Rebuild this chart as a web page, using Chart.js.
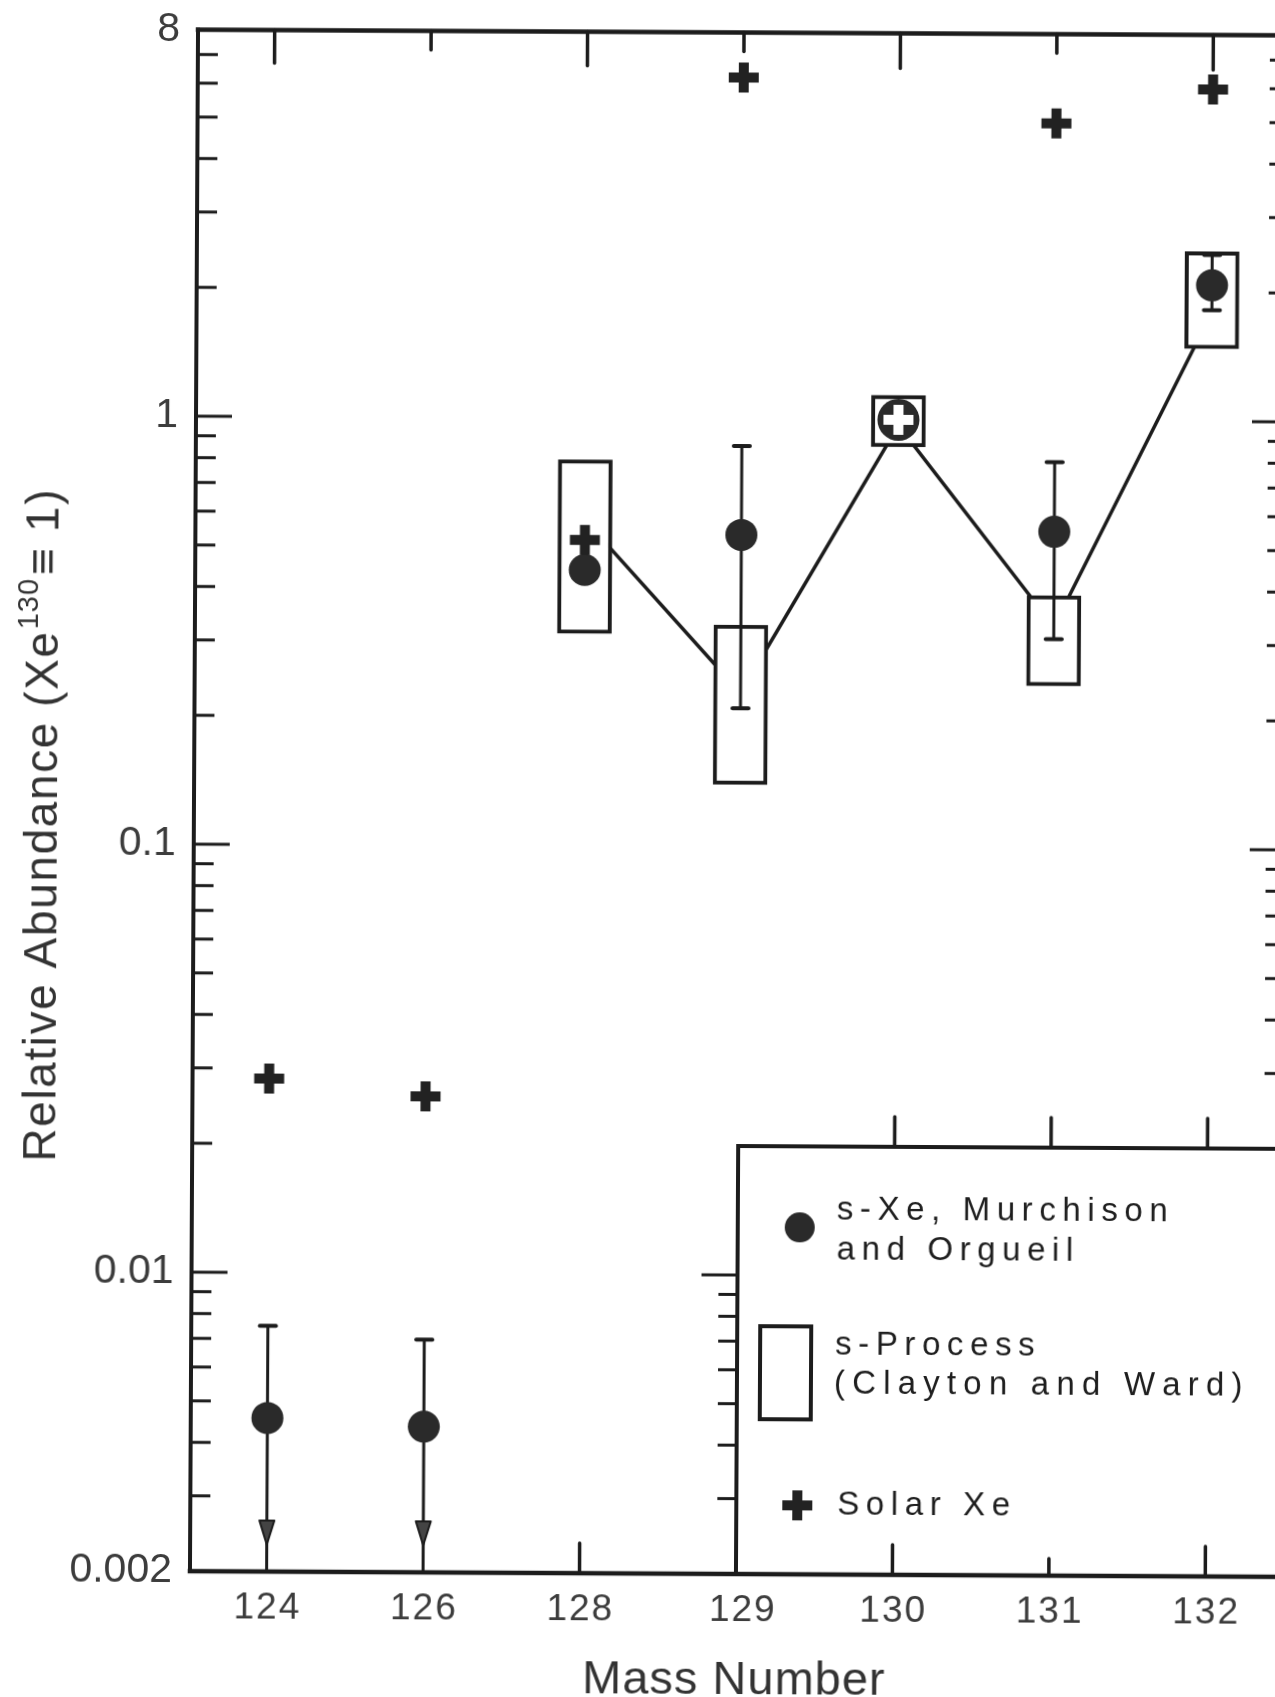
<!DOCTYPE html>
<html>
<head>
<meta charset="utf-8">
<title>Xenon isotopic abundances</title>
<script src="https://cdn.jsdelivr.net/npm/chart.js@4.4.1/dist/chart.umd.min.js"></script>
<style>
  html, body { margin: 0; padding: 0; background: #fff; overflow: hidden; }
  #wrap { position: relative; width: 1275px; height: 1697px; overflow: hidden; background: #fff; }
  /* the printed figure sits very slightly skewed on the page */
  #c { position: absolute; left: 0; top: 0; transform: rotate(0.3deg); transform-origin: 735px 800px; }
</style>
</head>
<body>
<div id="wrap"><canvas id="c" width="1320" height="1697"></canvas></div>
<script>
// Xenon mass numbers, evenly spaced along the horizontal axis
const massNumbers = ['124', '126', '128', '129', '130', '131', '132'];

// s-Xe, Murchison and Orgueil (relative to 130Xe = 1)
const sXe      = [0.00457, 0.00438, 0.442, 0.536, 1.0, 0.550, 2.08];
const sXeErrHi = [0.0075, 0.0070, null, 0.865, null, 0.800, 2.45];
const sXeErrLo = [null, null, null, 0.211, null, 0.3085, 1.82];   // null under an upper bar = upper limit

// s-process prediction (Clayton and Ward): allowed range and the connecting curve
const sProcMass = ['128', '129', '130', '131', '132'];
const sProcLow  = [0.314, 0.140, 0.865, 0.240, 1.48];
const sProcHigh = [0.799, 0.330, 1.14, 0.390, 2.49];
const sProcLine = [0.578, 0.229, 0.97, 0.330, 1.80];

// Solar xenon
const solarXe = [0.0284, 0.0259, 0.519, 6.28, 1.0, 4.95, 5.97];

// Labelled values of the logarithmic axis
const yTickLabels = ['8', '1', '0.1', '0.01', '0.002'];
const yTickValues = [8, 1, 0.1, 0.01, 0.002];

const INK = '#1c1c1c';
const DOT = '#2a2a2a';
const LABEL = '#3c3c3c';
const FONT = '"Liberation Sans", Arial, Helvetica, sans-serif';

const TOP_TICK = [33, 19, 34, 19, 35, 19, 35];
const BOTTOM_TICK = [0, 0, 30, 0, 30, 17, 30];

const idx = m => massNumbers.indexOf(m);

function seg(ctx, x1, y1, x2, y2) {
  ctx.beginPath(); ctx.moveTo(x1, y1); ctx.lineTo(x2, y2); ctx.stroke();
}
function spacedWidth(ctx, text, sp) {
  let w = 0;
  for (const ch of text) w += ctx.measureText(ch).width + sp;
  return w - sp;
}
function drawSpaced(ctx, text, x, y, sp) {
  let cx = x;
  for (const ch of text) { ctx.fillText(ch, cx, y); cx += ctx.measureText(ch).width + sp; }
  return cx;
}
function logTickValues() {
  const out = [];
  for (let d = -3; d <= 0; d++) {
    for (let k = 1; k <= 9; k++) {
      const v = +(k * Math.pow(10, d)).toPrecision(3);
      if (v > 0.002 && v < 8) out.push({ v, major: k === 1 });
    }
  }
  return out;
}
function drawCross(ctx, x, y, r, w, color) {
  ctx.save();
  ctx.strokeStyle = color; ctx.lineWidth = w; ctx.lineCap = 'butt';
  seg(ctx, x - r, y, x + r, y);
  seg(ctx, x, y - r, x, y + r);
  ctx.restore();
}

// Box frame, inward ticks on all four sides
const framePlugin = {
  id: 'frame',
  beforeDatasetsDraw(chart) {
    const { ctx, chartArea: a, scales: { x, y } } = chart;
    ctx.save();
    ctx.strokeStyle = INK;
    ctx.lineCap = 'square';
    ctx.lineWidth = 4.5;
    seg(ctx, a.left, a.top, a.right, a.top);
    ctx.lineWidth = 4;
    seg(ctx, a.left, a.top, a.left, a.bottom);
    seg(ctx, a.right, a.top, a.right, a.bottom);
    ctx.lineCap = 'round';
    ctx.lineWidth = 3.5;
    massNumbers.forEach((m, i) => {
      const px = x.getPixelForValue(i);
      seg(ctx, px, a.top, px, a.top + TOP_TICK[i]);
    });
    ctx.lineCap = 'butt';
    ctx.lineWidth = 3;
    logTickValues().forEach(t => {
      const py = y.getPixelForValue(t.v);
      const len = t.major ? 36 : 20;
      seg(ctx, a.left, py, a.left + len, py);
      seg(ctx, a.right, py, a.right - len, py);
    });
    ctx.restore();
  }
};

// Error bars (and upper-limit arrows) under the s-Xe dots
const errorBarPlugin = {
  id: 'errorBars',
  beforeDatasetDraw(chart, args) {
    if (chart.data.datasets[args.index].label !== 's-Xe, Murchison and Orgueil') return;
    const { ctx, chartArea: a, scales: { x, y } } = chart;
    ctx.save();
    ctx.strokeStyle = INK; ctx.fillStyle = '#444';
    sXe.forEach((v, i) => {
      const hi = sXeErrHi[i];
      if (hi == null) return;
      const lo = sXeErrLo[i];
      const px = x.getPixelForValue(i);
      const pyHi = y.getPixelForValue(hi);
      const pyLo = lo == null ? a.bottom : y.getPixelForValue(lo);
      ctx.lineWidth = 3; ctx.lineCap = 'butt';
      seg(ctx, px, pyHi, px, pyLo);
      ctx.lineWidth = 4; ctx.lineCap = 'round';
      seg(ctx, px - 8, pyHi, px + 8, pyHi);
      if (lo == null) {
        const tip = a.bottom - 27;
        ctx.beginPath();
        ctx.moveTo(px - 7.5, tip - 24); ctx.lineTo(px + 7.5, tip - 24); ctx.lineTo(px, tip);
        ctx.closePath(); ctx.fill();
        ctx.lineWidth = 2; ctx.lineJoin = 'round'; ctx.stroke();
      } else {
        seg(ctx, px - 8, pyLo, px + 8, pyLo);
      }
    });
    ctx.restore();
  }
};

// Key box in the lower right, tick labels and axis titles
const annotationPlugin = {
  id: 'annotations',
  afterDatasetsDraw(chart) {
    const { ctx, chartArea: a, scales: { x, y } } = chart;
    ctx.save();
    const lx = x.getPixelForValue(3);
    const ly = y.getPixelForValue(0.02);

    // key panel
    ctx.fillStyle = '#fff';
    ctx.fillRect(lx, ly, a.right + 20 - lx, a.bottom - ly);
    ctx.strokeStyle = INK;
    ctx.lineWidth = 4; ctx.lineCap = 'square';
    seg(ctx, lx, ly, a.right + 20, ly);
    seg(ctx, lx, ly, lx, a.bottom);
    ctx.lineWidth = 4.5;
    seg(ctx, a.left, a.bottom, a.right, a.bottom);

    ctx.lineWidth = 3.5; ctx.lineCap = 'round';
    for (let i = 4; i < massNumbers.length; i++) {
      const px = x.getPixelForValue(i);
      seg(ctx, px, ly, px, ly - 30);
    }
    massNumbers.forEach((m, i) => {
      if (!BOTTOM_TICK[i]) return;
      const px = x.getPixelForValue(i);
      seg(ctx, px, a.bottom, px, a.bottom - BOTTOM_TICK[i]);
    });
    ctx.lineWidth = 3; ctx.lineCap = 'butt';
    logTickValues().forEach(t => {
      if (t.v >= 0.02) return;
      const py = y.getPixelForValue(t.v);
      seg(ctx, lx, py, lx - (t.major ? 36 : 19), py);
    });

    // key entries
    ctx.fillStyle = DOT;
    ctx.beginPath(); ctx.arc(lx + 62, ly + 81, 15, 0, Math.PI * 2); ctx.fill();
    ctx.strokeStyle = INK; ctx.lineWidth = 4;
    ctx.strokeRect(lx + 23, ly + 180, 51, 93);
    drawCross(ctx, lx + 61, ly + 359, 15, 10, '#222');

    ctx.fillStyle = '#1e1e1e';
    ctx.font = '33px ' + FONT;
    ctx.textBaseline = 'middle'; ctx.textAlign = 'left';
    drawSpaced(ctx, 's-Xe, Murchison', lx + 99, ly + 64, 6.6);
    drawSpaced(ctx, 'and Orgueil', lx + 99, ly + 104, 6.6);
    drawSpaced(ctx, 's-Process', lx + 98, ly + 199, 6.6);
    drawSpaced(ctx, '(Clayton and Ward)', lx + 97, ly + 238, 7.2);
    drawSpaced(ctx, 'Solar Xe', lx + 101, ly + 359, 6.6);

    // tick labels
    ctx.fillStyle = LABEL;
    ctx.font = '41px ' + FONT;
    ctx.textAlign = 'right';
    yTickValues.forEach((v, k) => {
      ctx.fillText(yTickLabels[k], a.left - 18, y.getPixelForValue(v));
    });
    ctx.font = '37px ' + FONT;
    massNumbers.forEach((m, i) => {
      const px = x.getPixelForValue(i);
      const w = spacedWidth(ctx, m, 2);
      ctx.textAlign = 'left';
      drawSpaced(ctx, m, px - w / 2 + (i === 3 ? 6 : 0), a.bottom + 37, 2);
    });

    // horizontal axis title
    ctx.fillStyle = '#333';
    ctx.font = '47px ' + FONT;
    const xt = 'Mass Number';
    const xw = spacedWidth(ctx, xt, 1);
    drawSpaced(ctx, xt, 738 - xw / 2, 1681, 1);

    // vertical axis title with superscript
    ctx.save();
    ctx.translate(44, 829);
    ctx.rotate(-Math.PI / 2);
    const sp = 1.6;
    ctx.font = '46px ' + FONT;
    const p1 = 'Relative Abundance (Xe';
    const p3 = '\u2261 1)';
    const w1 = spacedWidth(ctx, p1, sp);
    const w3 = spacedWidth(ctx, p3, sp);
    ctx.font = '29px ' + FONT;
    const w2 = spacedWidth(ctx, '130', 1);
    const total = w1 + w2 + w3 + 2 * sp + 4;
    let cx = -total / 2;
    ctx.font = '46px ' + FONT;
    cx = drawSpaced(ctx, p1, cx, 0, sp);
    ctx.font = '29px ' + FONT;
    cx = drawSpaced(ctx, '130', cx + 1, -15, 1);
    ctx.font = '46px ' + FONT;
    drawSpaced(ctx, p3, cx + 3, 0, sp);
    ctx.restore();

    ctx.restore();
  }
};

const chart = new Chart(document.getElementById('c'), {
  type: 'scatter',
  data: {
    datasets: [
      {
        type: 'line',
        label: 's-Process curve',
        data: sProcMass.map((m, j) => ({ x: idx(m), y: sProcLine[j] })),
        borderColor: INK,
        borderWidth: 3.5,
        pointRadius: 0,
        tension: 0,
        order: 3
      },
      {
        type: 'bar',
        label: 's-Process (Clayton and Ward)',
        data: sProcMass.map((m, j) => ({ x: idx(m), y: [sProcLow[j], sProcHigh[j]] })),
        backgroundColor: '#ffffff',
        borderColor: INK,
        borderWidth: 4,
        borderSkipped: false,
        barThickness: 54,
        order: 2
      },
      {
        type: 'scatter',
        label: 's-Xe, Murchison and Orgueil',
        data: sXe.map((v, i) => ({ x: i, y: v })),
        pointRadius: c => (c.dataIndex === 4 ? 21 : 16),
        pointBackgroundColor: DOT,
        pointBorderWidth: 0,
        order: 1
      },
      {
        type: 'scatter',
        label: 'Solar Xe',
        data: solarXe.map((v, i) => ({ x: i, y: v })),
        pointStyle: 'cross',
        pointRadius: 15,
        pointBorderWidth: 10,
        pointBorderColor: c => (c.dataIndex === 4 ? '#ffffff' : '#222222'),
        order: 0
      }
    ]
  },
  options: {
    responsive: false,
    animation: false,
    events: [],
    layout: { padding: { left: 194, top: 32.5, right: 34, bottom: 123 } },
    scales: {
      x: { type: 'linear', min: -0.49, max: 6.49, offset: false, display: false },
      y: { type: 'logarithmic', min: 0.002, max: 8, display: false }
    },
    plugins: { legend: { display: false }, tooltip: { enabled: false } }
  },
  plugins: [framePlugin, errorBarPlugin, annotationPlugin]
});
</script>
</body>
</html>
